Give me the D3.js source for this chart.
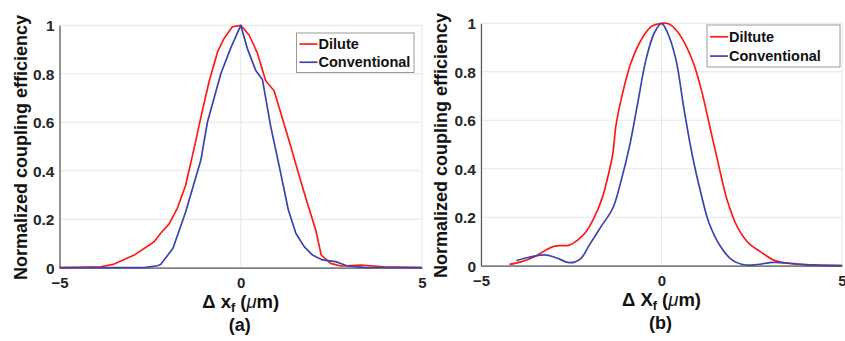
<!DOCTYPE html>
<html>
<head>
<meta charset="utf-8">
<script src="https://cdn.jsdelivr.net/npm/d3@7"></script>
<style>
html,body{margin:0;padding:0;background:#fff;}
svg{display:block;font-family:"Liberation Sans",Arial,sans-serif;}
</style>
</head>
<body>
<svg id="chart" width="845" height="341"></svg>
<script>
// ---- data ----
const xTicks = [-5, 0, 5];
const yTicks = [0, 0.2, 0.4, 0.6, 0.8, 1];
const yTickLabels = ["0", "0.2", "0.4", "0.6", "0.8", "1"];

// Panel (a)
const aDiluteX = [-5, -4.5, -3.86, -3.49, -2.94, -2.39, -2.21, -1.98, -1.75, -1.52, -1.29, -1.10, -0.87, -0.64, -0.46, -0.23, 0, 0.23, 0.46, 0.69, 0.92, 1.15, 1.38, 1.61, 1.84, 2.07, 2.22, 2.48, 2.76, 3.31, 3.95, 5];
const aDiluteY = [0, 0.001, 0.004, 0.015, 0.052, 0.107, 0.142, 0.18, 0.245, 0.34, 0.49, 0.62, 0.77, 0.89, 0.946, 0.994, 1.0, 0.96, 0.885, 0.77, 0.73, 0.616, 0.50, 0.38, 0.265, 0.155, 0.052, 0.018, 0.007, 0.011, 0.004, 0];
const aConvX = [-5, -2.67, -2.30, -2.21, -1.87, -1.52, -1.10, -0.92, -0.55, -0.28, 0, 0.18, 0.41, 0.60, 0.83, 1.06, 1.31, 1.52, 1.75, 1.98, 2.25, 2.62, 2.94, 3.40, 5];
const aConvY = [0, 0, 0.008, 0.013, 0.08, 0.23, 0.444, 0.60, 0.80, 0.905, 1.0, 0.905, 0.815, 0.775, 0.58, 0.42, 0.24, 0.142, 0.087, 0.052, 0.032, 0.025, 0.007, 0.001, 0];

// Panel (b)
const bDiluteX = [-4.21, -3.89, -3.52, -3.20, -2.96, -2.55, -2.32, -2.09, -1.86, -1.63, -1.45, -1.35, -1.26, -1.08, -0.85, -0.57, -0.29, 0, 0.21, 0.44, 0.67, 0.90, 1.13, 1.36, 1.59, 1.82, 2.10, 2.42, 2.74, 3.11, 3.48, 4.03, 5];
const bDiluteY = [0.0055, 0.016, 0.037, 0.065, 0.081, 0.085, 0.106, 0.14, 0.20, 0.285, 0.39, 0.46, 0.58, 0.71, 0.835, 0.93, 0.986, 1.0, 0.997, 0.966, 0.91, 0.83, 0.71, 0.56, 0.41, 0.27, 0.16, 0.092, 0.058, 0.023, 0.01, 0.003, 0];
const bConvX = [-4.02, -3.70, -3.24, -2.92, -2.60, -2.41, -2.23, -2.0, -1.68, -1.35, -1.12, -0.89, -0.66, -0.43, -0.20, 0, 0.17, 0.40, 0.63, 0.86, 1.09, 1.32, 1.64, 1.96, 2.33, 2.65, 3.11, 3.57, 4.13, 5];
const bConvY = [0.021, 0.034, 0.045, 0.033, 0.014, 0.015, 0.030, 0.085, 0.16, 0.237, 0.35, 0.49, 0.67, 0.85, 0.96, 1.0, 0.96, 0.85, 0.64, 0.45, 0.30, 0.175, 0.078, 0.023, 0.003, 0.005, 0.014, 0.01, 0.003, 0];

const seriesNamesA = ["Dilute", "Conventional"];
const seriesNamesB = ["Diltute", "Conventional"];
const xLabelVarA = "x";
const xLabelVarB = "X";
const panelLetters = ["(a)", "(b)"];

// ---- drawing ----
const RED = "#ff1a1a", BLUE = "#3a44ae";
const svg = d3.select("#chart");

const panels = [
  {x0: 59.5, x1: 422, yT: 25.3, yB: 267.7, curve: d3.curveLinear,
   series: [{x: aDiluteX, y: aDiluteY, c: RED}, {x: aConvX, y: aConvY, c: BLUE}],
   names: seriesNamesA, v: xLabelVarA, letter: panelLetters[0],
   leg: {x: 296.5, y: 33, w: 117.5, h: 39.5}, ylabX: 27},
  {x0: 481, x1: 842, yT: 23.3, yB: 265.7, curve: d3.curveCatmullRom.alpha(0.5),
   series: [{x: bDiluteX, y: bDiluteY, c: RED}, {x: bConvX, y: bConvY, c: BLUE}],
   names: seriesNamesB, v: xLabelVarB, letter: panelLetters[1],
   leg: {x: 707, y: 25, w: 133, h: 42}, ylabX: 447}
];

panels.forEach(p => {
  const x = d3.scaleLinear().domain([-5, 5]).range([p.x0, p.x1]);
  const y = d3.scaleLinear().domain([0, 1]).range([p.yB, p.yT]);
  const g = svg.append("g");

  // grid
  g.selectAll(".hg").data(yTicks).enter().append("line")
    .attr("x1", p.x0).attr("x2", p.x1)
    .attr("y1", d => y(d)).attr("y2", d => y(d))
    .attr("stroke", "#e6e6e6").attr("stroke-width", 1);
  g.selectAll(".vg").data(xTicks).enter().append("line")
    .attr("x1", d => x(d)).attr("x2", d => x(d))
    .attr("y1", p.yT).attr("y2", p.yB)
    .attr("stroke", "#e6e6e6").attr("stroke-width", 1);

  // axes
  const xa = g.append("g").attr("transform", `translate(0,${p.yB})`)
    .call(d3.axisBottom(x).tickValues(xTicks).tickSize(0).tickPadding(7));
  const ya = g.append("g").attr("transform", `translate(${p.x0},0)`)
    .call(d3.axisLeft(y).tickValues(yTicks).tickFormat((d, i) => yTickLabels[i]).tickSize(0).tickPadding(5));
  [xa, ya].forEach(a => {
    a.select(".domain").attr("stroke", "#555").attr("stroke-width", 1.2);
    a.selectAll("text").attr("fill", "#262626").attr("font-size", "15.5px")
      .attr("font-weight", "bold").attr("font-family", "Liberation Sans, Arial, sans-serif");
  });
  xa.selectAll("text").attr("font-size", "15px").attr("dy", "0.9em");
  ya.selectAll("text").attr("dy", "0.36em");

  // lines
  p.series.forEach(s => {
    const pts = s.x.map((v, i) => [v, s.y[i]]);
    g.append("path").datum(pts)
      .attr("fill", "none").attr("stroke", s.c).attr("stroke-width", 1.7)
      .attr("stroke-linejoin", "round")
      .attr("d", d3.line().x(d => x(d[0])).y(d => y(d[1])).curve(p.curve));
  });

  // legend
  const L = p.leg;
  g.append("rect").attr("x", L.x).attr("y", L.y).attr("width", L.w).attr("height", L.h)
    .attr("fill", "#fff").attr("stroke", "#9a9a9a").attr("stroke-width", 1);
  p.series.forEach((s, i) => {
    const cy = L.y + L.h * (i === 0 ? 0.28 : 0.74);
    g.append("line").attr("x1", L.x + 3).attr("x2", L.x + 21)
      .attr("y1", cy).attr("y2", cy).attr("stroke", s.c).attr("stroke-width", 1.7);
    g.append("text").attr("x", L.x + 22).attr("y", cy).attr("dy", "0.36em")
      .attr("font-size", "14.5px").attr("font-weight", "bold").attr("fill", "#111")
      .text(p.names[i]);
  });

  // y label
  const cx = (p.x0 + p.x1) / 2;
  g.append("text")
    .attr("transform", `translate(${p.ylabX},${(p.yT + p.yB) / 2 + 1}) rotate(-90)`)
    .attr("text-anchor", "middle").attr("font-size", "18px").attr("font-weight", "bold")
    .attr("fill", "#111").text("Normalized coupling efficiency");

  // x label
  const xl = g.append("text").attr("x", cx).attr("y", p.yB + 40.5)
    .attr("text-anchor", "middle").attr("font-size", "18.5px").attr("font-weight", "bold").attr("fill", "#111");
  xl.append("tspan").text("\u0394 " + p.v);
  xl.append("tspan").attr("font-size", "12.5px").attr("dy", "4").text("f");
  xl.append("tspan").attr("dy", "-4").text(" (");
  xl.append("tspan").attr("font-style", "italic").attr("font-weight", "normal").text("\u03bc");
  xl.append("tspan").text("m)");

  g.append("text").attr("x", cx - 1).attr("y", p.yB + 63.5)
    .attr("text-anchor", "middle").attr("font-size", "18px").attr("font-weight", "bold")
    .attr("fill", "#111").text(p.letter);
});
</script>
</body>
</html>
